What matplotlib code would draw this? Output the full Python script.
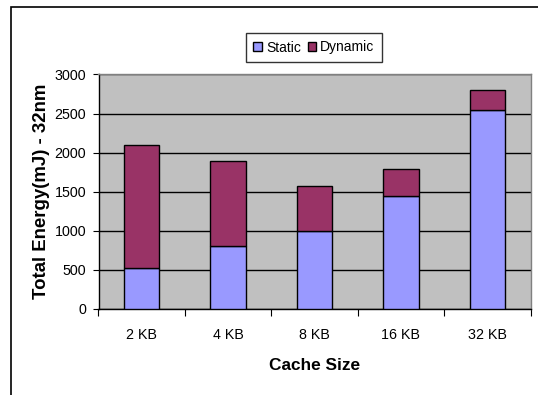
import matplotlib
matplotlib.use("Agg")
import matplotlib.pyplot as plt
from matplotlib.patches import Rectangle

plt.rcParams['font.family'] = ['Liberation Sans', 'DejaVu Sans']

categories = ["2 KB", "4 KB", "8 KB", "16 KB", "32 KB"]
static = [530, 810, 1000, 1450, 2550]
dynamic = [1570, 1080, 570, 340, 250]
yticks = [0, 500, 1000, 1500, 2000, 2500, 3000]

W, H = 538, 395
fig = plt.figure(figsize=(W / 100, H / 100), dpi=100)

# outer chart frame
fig.patches.append(Rectangle((11 / W, -0.1), 1.2, 1 - 7 / H + 0.1,
                             transform=fig.transFigure, fill=False,
                             edgecolor='black', linewidth=1.2))

left, right, top, bottom = 98.5, 530.5, 74.5, 309
ax = fig.add_axes([left / W, 1 - bottom / H, (right - left) / W, (bottom - top) / H])
ax.set_facecolor('#C0C0C0')

x = list(range(len(categories)))
ax.bar(x, static, width=0.41, color='#9999FF', edgecolor='black',
       linewidth=1.0, label='Static', zorder=3)
ax.bar(x, dynamic, width=0.41, bottom=static, color='#993366',
       edgecolor='black', linewidth=1.0, label='Dynamic', zorder=3)

ax.set_xlim(-0.5, len(categories) - 0.5)
ax.set_ylim(0, 3000)
ax.set_yticks(yticks)
ax.set_yticklabels([str(v) for v in yticks], fontsize=10.3)
ax.yaxis.grid(True, color='black', linewidth=1.0, zorder=1)
ax.set_axisbelow(True)

ax.set_xticks([i - 0.5 for i in range(len(categories) + 1)], minor=False)
ax.set_xticklabels([])
ax.set_xticks(x, minor=True)
ax.set_xticklabels(categories, minor=True, fontsize=10.3)
ax.tick_params(axis='x', which='major', direction='out', length=5, width=0.8)
ax.tick_params(axis='x', which='minor', length=0, pad=14)
ax.tick_params(axis='y', direction='out', length=4, width=0.8, pad=5)

for s in ['left', 'bottom']:
    ax.spines[s].set_color('black')
    ax.spines[s].set_linewidth(1.0)
for s in ['top', 'right']:
    ax.spines[s].set_color('#808080')
    ax.spines[s].set_linewidth(1.0)

ax.set_xlabel('Cache Size', fontsize=12.4, fontweight='bold', labelpad=11)
ax.set_ylabel('Total Energy(mJ) - 32nm', fontsize=13.4, fontweight='bold', labelpad=3)

leg = fig.legend(loc='center', bbox_to_anchor=(314 / W, 1 - 47.5 / H), ncol=2,
                 fontsize=10, frameon=True, fancybox=False, edgecolor='black',
                 handlelength=0.6, handleheight=0.6, handletextpad=0.3,
                 columnspacing=0.5, borderpad=0.55)
leg.get_frame().set_linewidth(1.0)

fig.savefig('out.png', dpi=100)
